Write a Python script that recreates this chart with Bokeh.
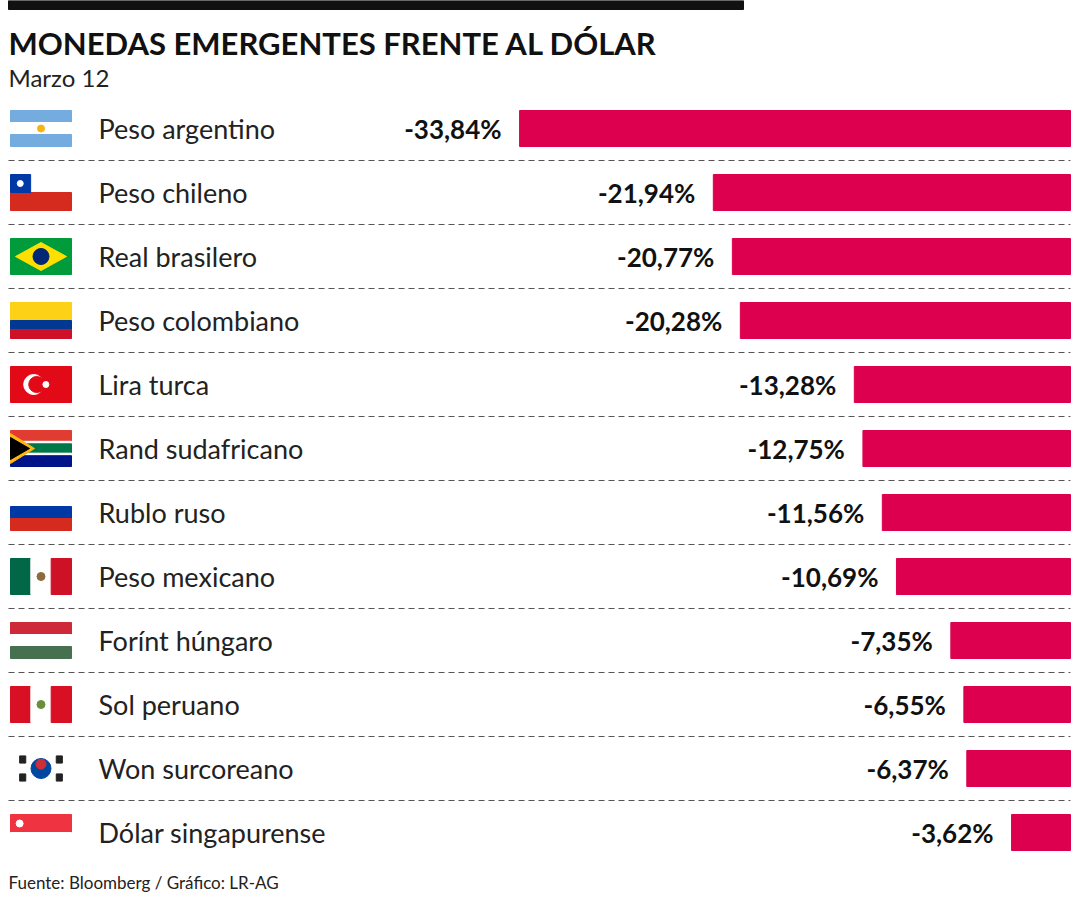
from bokeh.plotting import figure
from bokeh.models import Range1d
from bokeh.embed import file_html
from bokeh.resources import INLINE
from bokeh.core.properties import value

currencies = ["Peso argentino", "Peso chileno", "Real brasilero", "Peso colombiano", "Lira turca",
              "Rand sudafricano", "Rublo ruso", "Peso mexicano", "Forínt húngaro", "Sol peruano",
              "Won surcoreano", "Dólar singapurense"]
changes = [-33.84, -21.94, -20.77, -20.28, -13.28, -12.75, -11.56, -10.69, -7.35, -6.55, -6.37, -3.62]
flags = ["ar", "cl", "br", "co", "tr", "za", "ru", "mx", "hu", "pe", "kr", "sg"]
title = "MONEDAS EMERGENTES FRENTE AL DÓLAR"
subtitle = "Marzo 12"
source = "Fuente: Bloomberg / Gráfico: LR-AG"

W, H = 1076, 896
PXU = 16.28            # pixels per percentage point
X0 = 1070              # pixel of zero
xmin = -X0 / PXU
xmax = (W - X0) / PXU
ROW0, ROWH = 128, 64

def px(xp):
    return xmin + xp / PXU

p = figure(width=W, height=H, x_range=Range1d(xmin, xmax), y_range=Range1d(H, 0),
           output_backend="svg", toolbar_location=None, min_border=0)
p.axis.visible = False
p.grid.visible = False
p.outline_line_color = None

FONT = value("Lato")
CRIM = "#dc004e"

p.quad(left=px(8), right=px(743), top=0, bottom=9, color="#111")
p.text(x=[px(8)], y=[42], text=[title], text_font=FONT, text_font_style="bold",
       text_font_size="31px", text_baseline="middle", text_color="#111")
p.text(x=[px(8)], y=[77], text=[subtitle], text_font=FONT, text_font_size="24px",
       text_baseline="middle", text_color="#222")
p.text(x=[px(8)], y=[882], text=[source], text_font=FONT, text_font_size="17px",
       text_baseline="middle", text_color="#222")

ys = [ROW0 + ROWH * i for i in range(len(currencies))]
p.hbar(y=ys, left=changes, right=0, height=36, color=CRIM)
labels = [f"{v:.2f}%".replace(".", ",") for v in changes]
p.text(x=[v - 18 / PXU for v in changes], y=ys, text=labels, text_font=FONT,
       text_font_style="bold", text_font_size="26px", text_align="right",
       text_baseline="middle", text_color="#111")
p.text(x=[px(98)] * len(ys), y=ys, text=currencies, text_font=FONT,
       text_font_size="27px", text_baseline="middle", text_color="#222")
for i in range(len(ys) - 1):
    yy = ys[i] + 32
    p.line([px(8), px(X0)], [yy, yy], line_color="#555", line_dash="6 4", line_width=1)

FX, FW, FH = 10, 61, 36
def rect(cy, x0, x1, y0, y1, c):
    top = cy - FH / 2
    p.quad(left=px(FX + FW * x0), right=px(FX + FW * x1), top=top + FH * y0,
           bottom=top + FH * y1, color=c)
def hstripes(cy, cols, fr=None):
    n = len(cols); fr = fr or [1 / n] * n
    a = 0
    for c, f in zip(cols, fr):
        rect(cy, 0, 1, a, a + f, c); a += f
def vstripes(cy, cols):
    n = len(cols)
    for k, c in enumerate(cols):
        rect(cy, k / n, (k + 1) / n, 0, 1, c)
def circ(cy, fx, fy, r, c):
    p.scatter(x=[px(FX + FW * fx)], y=[cy - FH / 2 + FH * fy], size=r, color=c)

for f, cy in zip(flags, ys):
    if f == "ar":
        hstripes(cy, ["#74acdf", "white", "#74acdf"]); circ(cy, .5, .5, 7, "#f6b40e")
    elif f == "cl":
        hstripes(cy, ["white", "#d52b1e"]); rect(cy, 0, .33, 0, .5, "#0039a6"); circ(cy, .16, .25, 6, "white")
    elif f == "br":
        rect(cy, 0, 1, 0, 1, "#009c3b")
        t = cy - FH / 2
        p.patch([px(FX + 5), px(FX + FW / 2), px(FX + FW - 5), px(FX + FW / 2)],
                [t + FH / 2, t + 4, t + FH / 2, t + FH - 4], color="#ffdf00")
        circ(cy, .5, .5, 16, "#002776")
    elif f == "co":
        hstripes(cy, ["#fcd116", "#003893", "#ce1126"], [.5, .25, .25])
    elif f == "tr":
        rect(cy, 0, 1, 0, 1, "#e30a17"); circ(cy, .38, .5, 20, "white"); circ(cy, .43, .5, 16, "#e30a17")
        circ(cy, .58, .5, 6, "white")
    elif f == "za":
        hstripes(cy, ["#e03c31", "white", "#007749", "white", "#001489"], [.3, .07, .26, .07, .3])
        t = cy - FH / 2
        p.patch([px(FX), px(FX + 24), px(FX)], [t + 3, t + FH / 2, t + FH - 3], color="#ffb612")
        p.patch([px(FX), px(FX + 19), px(FX)], [t + 7, t + FH / 2, t + FH - 7], color="black")
    elif f == "ru":
        hstripes(cy, ["white", "#0039a6", "#d52b1e"])
    elif f == "mx":
        vstripes(cy, ["#006847", "white", "#ce1126"]); circ(cy, .5, .5, 8, "#8c6b3e")
    elif f == "hu":
        hstripes(cy, ["#ce2939", "white", "#477050"])
    elif f == "pe":
        vstripes(cy, ["#d91023", "white", "#d91023"]); circ(cy, .5, .5, 8, "#6a8f3a")
    elif f == "kr":
        rect(cy, 0, 1, 0, 1, "white")
        circ(cy, .5, .5, 20, "#0047a0")
        circ(cy, .5, .38, 10, "#cd2e3a")
        for fx, fy in [(.2, .25), (.8, .25), (.2, .75), (.8, .75)]:
            rect(cy, fx - .05, fx + .05, fy - .1, fy + .1, "#222")
    elif f == "sg":
        hstripes(cy, ["#ef3340", "white"]); circ(cy, .15, .25, 7, "white")

open("out.html", "w").write(file_html(p, INLINE))
